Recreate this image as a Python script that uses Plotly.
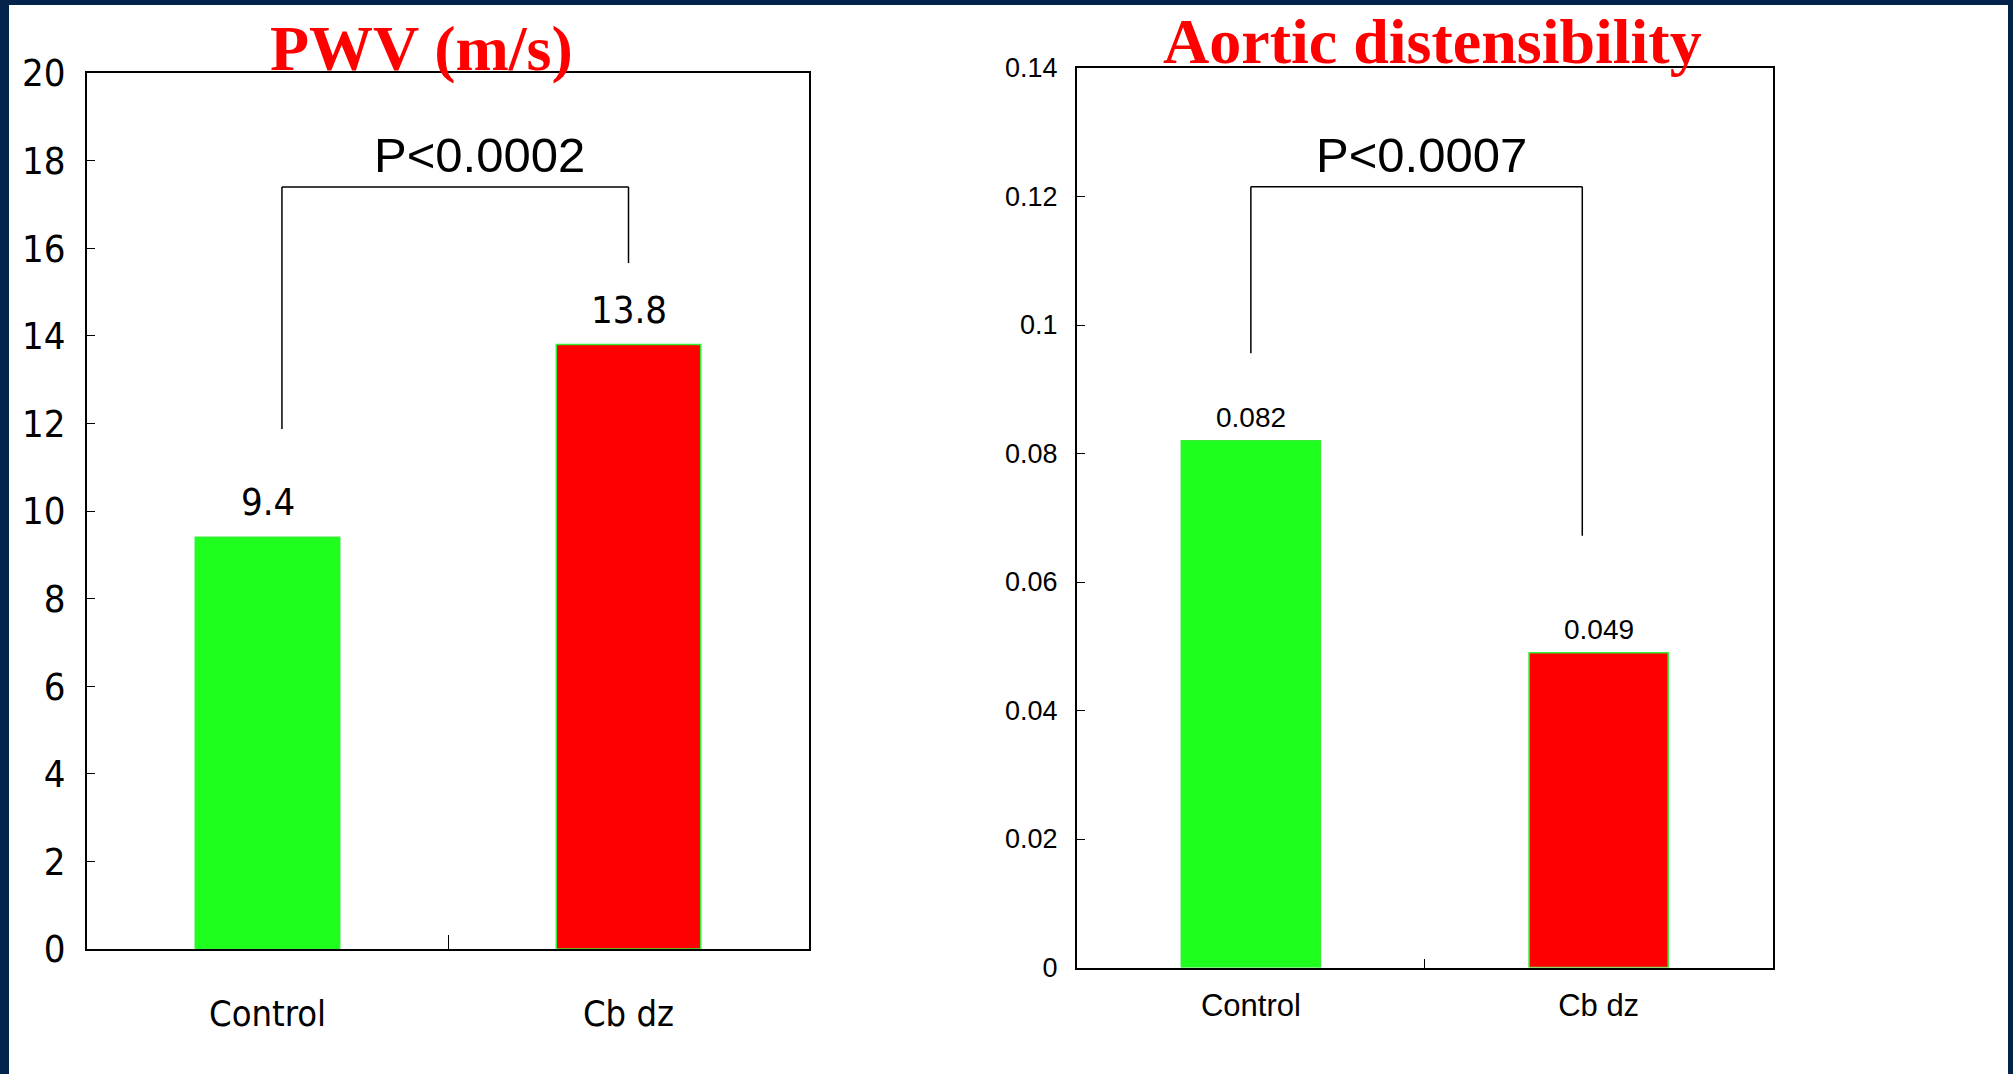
import plotly.graph_objects as go

# ---------------- data ----------------
categories = ["Control", "Cb dz"]
pwv_values = [9.4, 13.8]
pwv_labels = ["9.4", "13.8"]
ad_values = [0.082, 0.049]
ad_labels = ["0.082", "0.049"]
pwv_tickvals = [0, 2, 4, 6, 8, 10, 12, 14, 16, 18, 20]
pwv_ticktext = ["0", "2", "4", "6", "8", "10", "12", "14", "16", "18", "20"]
ad_tickvals = [0, 0.02, 0.04, 0.06, 0.08, 0.1, 0.12, 0.14]
ad_ticktext = ["0", "0.02", "0.04", "0.06", "0.08", "0.1", "0.12", "0.14"]
pwv_title = "PWV (m/s)"
ad_title = "Aortic distensibility"
pwv_p = "P<0.0002"
ad_p = "P<0.0007"
# bracket: x = [left leg, right leg] (category index); y = [left leg bottom, top, right leg bottom]
pwv_bracket_x = [0.04, 1.0]
pwv_bracket_y = [11.87, 17.4, 15.66]
ad_bracket_x = [0.0, 0.953]
ad_bracket_y = [0.0956, 0.1215, 0.0672]

# ---------------- styles ----------------
W, H = 2013, 1074
bar_colors = ["#1eff1e", "#ff0000"]
NARROW = "DejaVu Sans Condensed, Liberation Sans Narrow, Arial Narrow, sans-serif"
SANS = "Liberation Sans, Arial, Helvetica, sans-serif"
SERIF = "Liberation Serif, Times New Roman, serif"
FRAME = "#03234a"


def px_x(p):
    return p / W


def px_y(p):
    return 1 - p / H


fig = go.Figure()

fig.add_trace(go.Bar(
    x=categories, y=pwv_values, width=0.4,
    marker=dict(color=bar_colors, line=dict(color="#33ee33", width=1.5)),
    xaxis="x", yaxis="y", showlegend=False, hoverinfo="skip",
))
fig.add_trace(go.Bar(
    x=categories, y=ad_values, width=0.4,
    marker=dict(color=bar_colors, line=dict(color="#33ee33", width=1.5)),
    xaxis="x2", yaxis="y2", showlegend=False, hoverinfo="skip",
))

axis_common = dict(showline=True, linecolor="black", linewidth=2, mirror=True,
                   showgrid=False, zeroline=False, ticks="inside",
                   tickcolor="black", automargin=False)

fig.update_layout(
    width=W, height=H,
    margin=dict(l=0, r=0, t=0, b=0, pad=0, autoexpand=False),
    paper_bgcolor=FRAME,
    plot_bgcolor="white",
    bargap=0.6,
    xaxis=dict(domain=[px_x(87), px_x(809)], anchor="y", type="category",
               range=[-0.5, 1.5], tickson="boundaries", ticklen=14, tickwidth=1,
               tickfont=dict(family=NARROW, size=36, color="black"),
               ticklabelstandoff=32, **axis_common),
    yaxis=dict(domain=[px_y(949), px_y(73)], anchor="x", range=[0, 20],
               tickvals=pwv_tickvals, ticktext=pwv_ticktext, ticklen=8, tickwidth=1,
               tickfont=dict(family=NARROW, size=38, color="black"),
               ticklabelstandoff=12, **axis_common),
    xaxis2=dict(domain=[px_x(1077), px_x(1772.5)], anchor="y2", type="category",
                range=[-0.5, 1.5], tickson="boundaries", ticklen=9, tickwidth=1,
                tickfont=dict(family=SANS, size=31, color="black"),
                ticklabelstandoff=9, **axis_common),
    yaxis2=dict(domain=[px_y(967.5), px_y(68)], anchor="x2", range=[0, 0.14],
                tickvals=ad_tickvals, ticktext=ad_ticktext, ticklen=8, tickwidth=1,
                tickfont=dict(family=SANS, size=27, color="black"),
                ticklabelstandoff=12, **axis_common),
)

shapes = [dict(type="rect", xref="paper", yref="paper",
               x0=px_x(9), x1=px_x(2008), y0=0, y1=px_y(5),
               fillcolor="white", line=dict(width=0), layer="below")]


def bracket(xr, yr, bx, by):
    ln = dict(color="black", width=1.5)
    return [
        dict(type="line", xref=xr, yref=yr, x0=bx[0], x1=bx[0], y0=by[0], y1=by[1], line=ln),
        dict(type="line", xref=xr, yref=yr, x0=bx[0], x1=bx[1], y0=by[1], y1=by[1], line=ln),
        dict(type="line", xref=xr, yref=yr, x0=bx[1], x1=bx[1], y0=by[2], y1=by[1], line=ln),
    ]


shapes += bracket("x", "y", pwv_bracket_x, pwv_bracket_y)
shapes += bracket("x2", "y2", ad_bracket_x, ad_bracket_y)
fig.update_layout(shapes=shapes)

ann = []
for i, (v, t) in enumerate(zip(pwv_values, pwv_labels)):
    ann.append(dict(x=i, y=v, xref="x", yref="y", text=t, showarrow=False,
                    yanchor="bottom", yshift=11,
                    font=dict(family=NARROW, size=38, color="black")))
for i, (v, t) in enumerate(zip(ad_values, ad_labels)):
    ann.append(dict(x=i, y=v, xref="x2", yref="y2", text=t, showarrow=False,
                    yanchor="bottom", yshift=6,
                    font=dict(family=SANS, size=28, color="black")))

ann.append(dict(x=px_x(421), y=px_y(48.5), xref="paper", yref="paper", text=f"<b>{pwv_title}</b>",
                showarrow=False, xanchor="center", yanchor="middle",
                font=dict(family=SERIF, size=64, color="#ff0000")))
ann.append(dict(x=px_x(1432), y=px_y(41.5), xref="paper", yref="paper", text=f"<b>{ad_title}</b>",
                showarrow=False, xanchor="center", yanchor="middle",
                font=dict(family=SERIF, size=64, color="#ff0000")))
ann.append(dict(x=px_x(479), y=px_y(155), xref="paper", yref="paper", text=pwv_p,
                showarrow=False, xanchor="center", yanchor="middle",
                font=dict(family=SANS, size=49, color="black")))
ann.append(dict(x=px_x(1421), y=px_y(155), xref="paper", yref="paper", text=ad_p,
                showarrow=False, xanchor="center", yanchor="middle",
                font=dict(family=SANS, size=49, color="black")))
fig.update_layout(annotations=ann)

fig.write_html("out.html")
